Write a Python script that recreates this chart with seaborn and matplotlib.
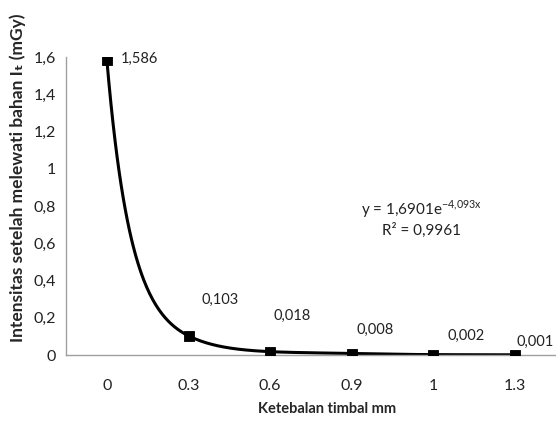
import matplotlib
matplotlib.use("Agg")
import matplotlib.pyplot as plt
import numpy as np
import pandas as pd
import seaborn as sns

# data
thickness = ["0", "0.3", "0.6", "0.9", "1", "1.3"]
intensity = [1.586, 0.103, 0.018, 0.008, 0.002, 0.001]
value_labels = ["1,586", "0,103", "0,018", "0,008", "0,002", "0,001"]
label_offsets = [(14, 1), (13, 36), (3, 36), (5, 24), (14, 19), (1, 13)]  # pixels
yticks = [0, 0.2, 0.4, 0.6, 0.8, 1.0, 1.2, 1.4, 1.6]
ytick_labels = ["0", "0,2", "0,4", "0,6", "0,8", "1", "1,2", "1,4", "1,6"]

sns.set_style("white")
plt.rcParams["font.family"] = ["Lato", "DejaVu Sans"]
plt.rcParams["mathtext.fontset"] = "custom"
plt.rcParams["mathtext.rm"] = "Lato"

df = pd.DataFrame({"pos": np.arange(len(thickness)), "y": intensity})


# smoothed line: monotone cubic through the points in log space
def smooth_curve(x, y, n=400):
    ly = np.log(y)
    d = np.diff(ly) / np.diff(x)
    m = np.zeros_like(ly)
    for k in range(1, len(ly) - 1):
        if d[k - 1] * d[k] > 0:
            m[k] = 2 / (1 / d[k - 1] + 1 / d[k])
    m[0] = (3 * d[0] - d[1]) / 2
    m[-1] = (3 * d[-1] - d[-2]) / 2
    xs = np.linspace(x[0], x[-1], n)
    idx = np.clip(np.searchsorted(x, xs) - 1, 0, len(x) - 2)
    h = x[idx + 1] - x[idx]
    t = (xs - x[idx]) / h
    h00 = 2 * t**3 - 3 * t**2 + 1
    h10 = t**3 - 2 * t**2 + t
    h01 = -2 * t**3 + 3 * t**2
    h11 = t**3 - t**2
    ys = h00 * ly[idx] + h10 * h * m[idx] + h01 * ly[idx + 1] + h11 * h * m[idx + 1]
    return xs, np.exp(ys)


cx, cy = smooth_curve(df["pos"].to_numpy(float), df["y"].to_numpy(float))

fig = plt.figure(figsize=(5.56, 4.23), dpi=100)
ax = fig.add_axes([66 / 556, 68 / 423, 490 / 556, 298 / 423])

sns.lineplot(x=cx, y=cy, ax=ax, color="black", lw=2.2, sort=False)
sns.scatterplot(data=df, x="pos", y="y", ax=ax, marker="s", s=60,
                color="black", edgecolor="black", zorder=5)

for xi, yi, lab, (dx, dy) in zip(df["pos"], df["y"], value_labels, label_offsets):
    ax.annotate(lab, (xi, yi), xytext=(dx, dy), textcoords="offset pixels",
                ha="left", va="center", fontsize=10.5, color="#222222")

ax.set_xlim(-0.5, len(thickness) - 0.5)
ax.set_ylim(0, 1.6)
ax.set_xticks(np.arange(len(thickness)))
ax.set_xticklabels(thickness)
ax.set_xticks(np.arange(len(thickness) + 1) - 0.5, minor=True)
ax.set_yticks(yticks)
ax.set_yticklabels(ytick_labels)
ax.tick_params(axis="x", which="major", length=0, pad=17, labelsize=11.5, colors="#222222")
ax.tick_params(axis="x", which="minor", length=5, color="#a0a0a0", direction="out")
ax.tick_params(axis="y", length=4, direction="out", labelsize=11.5, colors="#222222")
ax.tick_params(axis="y", color="#a0a0a0")
ax.set_xlabel("")
ax.set_ylabel("")

for side in ["top", "right"]:
    ax.spines[side].set_visible(False)
for side in ["left", "bottom"]:
    ax.spines[side].set_color("#a0a0a0")
    ax.spines[side].set_linewidth(1)

ax.text(0.725, 0.49, "y = 1,6901e$^{\\mathrm{-4{,}093x}}$", transform=ax.transAxes,
        ha="center", va="center", fontsize=11, color="#222222")
ax.text(0.725, 0.42, "R² = 0,9961", transform=ax.transAxes,
        ha="center", va="center", fontsize=11, color="#222222")

fig.text(18 / 556, 1 - 178 / 423, "Intensitas setelah melewati bahan Iₜ (mGy)",
         rotation=90, ha="center", va="center", fontsize=12.5, fontweight="bold")
fig.text(327 / 556, 1 - 409 / 423, "Ketebalan timbal mm", ha="center", va="center",
         fontsize=10.5, fontweight="bold")

fig.savefig("out.png", dpi=100)
